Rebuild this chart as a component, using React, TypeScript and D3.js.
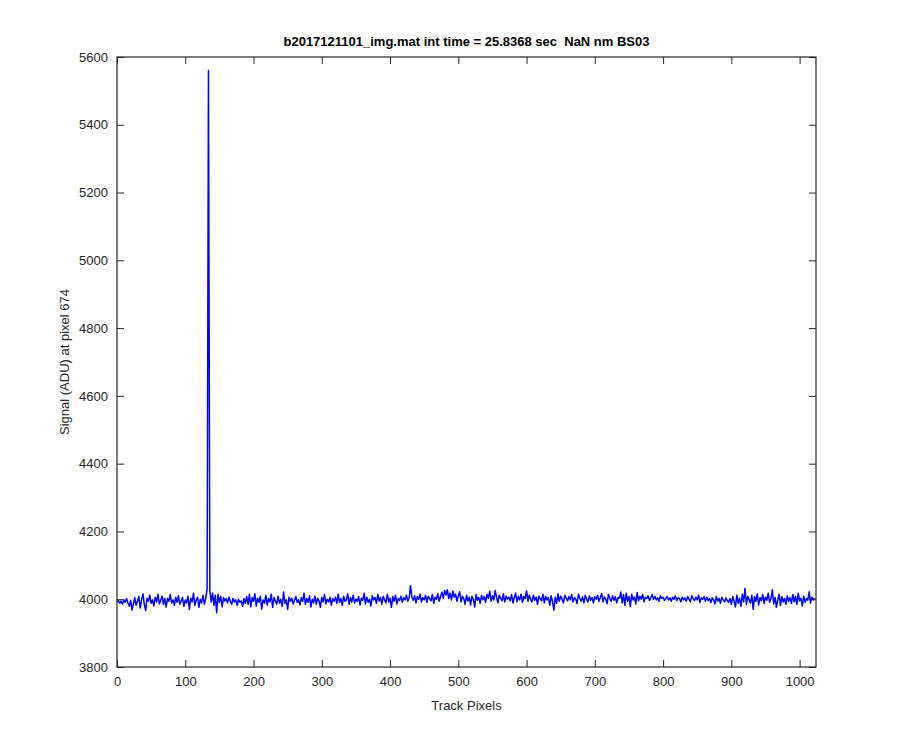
import React, { useRef, useEffect } from 'react';
import * as d3 from 'd3';

// signal sampled every 2 track pixels (index = 2 * i)
const sampleStep = 2;
const signal = [
  3992, 3997, 3988, 3995, 3985, 3998, 3991, 4002, 3989, 3979, 3997, 3968, 3986, 4005, 3982, 3994,
  4008, 3974, 3998, 4016, 3985, 3967, 4003, 3994, 4012, 3988, 3998, 3980, 4006, 3992, 4015, 3986,
  3997, 4009, 3985, 4003, 3977, 4002, 3994, 4014, 3989, 3998, 3982, 4006, 3991, 4010, 3985, 3995,
  4005, 3979, 3998, 3989, 4009, 3970, 4003, 3992, 4018, 3982, 3997, 4006, 3976, 4000, 3989, 4012,
  3985, 4002, 4030, 5560, 4025, 3992, 4018, 3982, 4012, 3960, 4015, 3991, 4009, 3977, 4005, 3995,
  4002, 3989, 4006, 3994, 3985, 4003, 3992, 3998, 3982, 4000, 3991, 3995, 3979, 4002, 3988, 4008,
  3985, 4014, 3977, 4005, 3994, 4016, 3980, 4003, 3991, 4009, 3971, 3998, 3988, 4012, 3983, 4002,
  3992, 4015, 3976, 4005, 3995, 3985, 4009, 3989, 4000, 3979, 4021, 3988, 3998, 3970, 4006, 3994,
  4003, 3986, 3997, 4008, 3991, 3998, 3983, 4005, 3994, 4018, 3985, 4002, 3991, 4010, 3977, 4000,
  3989, 4009, 3985, 4003, 3995, 3976, 4006, 3992, 4014, 3986, 4000, 3992, 4005, 3982, 4002, 3994,
  4006, 3988, 4015, 3991, 4002, 3982, 4009, 3994, 3998, 4016, 3985, 4005, 3992, 4012, 3989, 4000,
  3994, 4008, 3983, 4003, 3997, 4018, 3986, 4006, 3991, 4000, 3980, 4010, 3998, 4005, 3988, 4014,
  3995, 4006, 3985, 4009, 3998, 3989, 4015, 3992, 4003, 3976, 4008, 3994, 4012, 3986, 4002, 3997,
  4009, 3991, 4005, 3998, 4012, 3994, 4003, 4040, 4006, 3997, 4010, 3989, 4008, 4000, 4015, 3992,
  4005, 3998, 4012, 3991, 4009, 4002, 3995, 4014, 3988, 4006, 4000, 4016, 3994, 4008, 4021, 4003,
  4026, 4012, 4028, 4002, 4018, 3998, 4024, 4006, 4015, 3994, 4010, 4022, 3992, 4009, 4002, 3985,
  4012, 3995, 4006, 3983, 4009, 4000, 3977, 4014, 3997, 4005, 3988, 4012, 3998, 4008, 3991, 4015,
  4002, 4024, 3994, 4010, 3998, 4026, 4006, 3989, 4012, 4003, 3995, 4016, 3992, 4009, 4000, 4006,
  3995, 4014, 3989, 4005, 4018, 3992, 4009, 3998, 4015, 3991, 4008, 4002, 4025, 3994, 4012, 4000,
  3992, 4012, 3997, 4006, 3985, 4009, 4002, 3995, 4015, 3989, 4008, 3998, 4005, 3982, 4010, 3994,
  3968, 4006, 3988, 4016, 3994, 4009, 4000, 3989, 4012, 4003, 3995, 4008, 3998, 4014, 3992, 4005,
  4000, 3987, 4015, 4002, 3994, 4007, 3989, 4012, 4000, 3992, 4010, 3997, 4005, 3989, 4007, 4000,
  4012, 3994, 4005, 4017, 3992, 4007, 4000, 3987, 4015, 4002, 3994, 4010, 3997, 4007, 3989, 4005,
  4003, 4021, 3989, 4014, 3982, 4018, 3994, 4008, 3979, 4015, 3998, 4006, 3986, 4020, 3995, 4009,
  4000, 4014, 3992, 4006, 4002, 4010, 3996, 4004, 4014, 4000, 4008, 3998, 4004, 3994, 4010, 4002,
  4006, 3996, 4002, 4008, 3998, 4004, 3994, 4006, 4000, 4010, 3996, 4004, 4002, 3992, 4006, 3998,
  4004, 3994, 4008, 4000, 3992, 4010, 4002, 3996, 4006, 3998, 4012, 3990, 4004, 4000, 4008, 3994,
  4006, 3996, 4002, 3990, 4004, 3998, 3986, 4008, 3994, 4002, 3988, 4006, 3998, 3992, 4004, 3996,
  3991, 4002, 3985, 4008, 3994, 3977, 4012, 3988, 4003, 3979, 4015, 3992, 4032, 3985, 4009, 3998,
  3989, 4012, 3970, 4008, 3994, 4016, 3983, 4005, 3995, 4014, 3988, 4006, 3997, 4018, 3991, 4002,
  4028, 3986, 4006, 3976, 3997, 4015, 3982, 4008, 3992, 4002, 3985, 4010, 3994, 4005, 3988, 4014,
  3992, 4008, 3985, 4018, 3995, 4003, 3980, 4009, 3991, 4002, 3997, 4022, 3989, 4006, 3998, 4003,
];

const xTicks = [0, 100, 200, 300, 400, 500, 600, 700, 800, 900, 1000];
const yTicks = [3800, 4000, 4200, 4400, 4600, 4800, 5000, 5200, 5400, 5600];
const titleText = 'b2017121101_img.mat int time = 25.8368 sec\u00a0\u00a0NaN nm BS03';
const xLabel = 'Track Pixels';
const yLabel = 'Signal (ADU) at pixel 674';

const App = () => {
  const svgRef = useRef(null);

  useEffect(() => {
    const width = 900;
    const height = 750;
    const margin = { top: 57, right: 84, bottom: 83, left: 117 };
    const innerW = width - margin.left - margin.right;
    const innerH = height - margin.top - margin.bottom;
    const axisColor = '#262626';
    const font = '"Liberation Sans", Arial, Helvetica, sans-serif';
    const fmt = d3.format('d');

    const svg = d3.select(svgRef.current);
    svg.selectAll('*').remove();
    svg.attr('width', width).attr('height', height);

    svg.append('rect').attr('width', width).attr('height', height).attr('fill', '#ffffff');

    const g = svg.append('g').attr('transform', `translate(${margin.left},${margin.top})`);

    const x = d3.scaleLinear().domain([0, 1024]).range([0, innerW]);
    const y = d3.scaleLinear().domain([3800, 5600]).range([innerH, 0]);

    // data line
    const line = d3.line()
      .x((d, i) => x(i * sampleStep))
      .y(d => y(d));

    g.append('path')
      .datum(signal)
      .attr('fill', 'none')
      .attr('stroke', '#0000ff')
      .attr('stroke-width', 1.5)
      .attr('stroke-linejoin', 'round')
      .attr('d', line);

    const tickLen = 7;

    // bottom axis (ticks inward)
    const xAxis = d3.axisBottom(x).tickValues(xTicks).tickFormat(fmt).tickSizeInner(-tickLen).tickSizeOuter(0).tickPadding(10);
    const gx = g.append('g').attr('transform', `translate(0,${innerH})`).call(xAxis);
    // top ticks
    const gxt = g.append('g').call(d3.axisTop(x).tickValues(xTicks).tickSizeInner(-tickLen).tickSizeOuter(0).tickFormat(() => ''));
    // left axis
    const yAxis = d3.axisLeft(y).tickValues(yTicks).tickFormat(fmt).tickSizeInner(-tickLen).tickSizeOuter(0).tickPadding(9);
    const gy = g.append('g').call(yAxis);
    // right ticks
    const gyr = g.append('g').attr('transform', `translate(${innerW},0)`)
      .call(d3.axisRight(y).tickValues(yTicks).tickSizeInner(-tickLen).tickSizeOuter(0).tickFormat(() => ''));

    [gx, gxt, gy, gyr].forEach(a => {
      a.select('.domain').remove();
      a.selectAll('line').attr('stroke', axisColor).attr('stroke-width', 1);
      a.selectAll('text').attr('fill', axisColor).style('font-family', font).style('font-size', '13px');
    });

    // box
    g.append('rect')
      .attr('x', 0)
      .attr('y', 0)
      .attr('width', innerW)
      .attr('height', innerH)
      .attr('fill', 'none')
      .attr('stroke', axisColor)
      .attr('stroke-width', 1.2);

    // title
    svg.append('text')
      .attr('x', margin.left + innerW / 2)
      .attr('y', 46)
      .attr('text-anchor', 'middle')
      .style('font-family', font)
      .style('font-size', '13px')
      .style('font-weight', 'bold')
      .attr('fill', '#000000')
      .text(titleText);

    // x label
    svg.append('text')
      .attr('x', margin.left + innerW / 2)
      .attr('y', 710)
      .attr('text-anchor', 'middle')
      .style('font-family', font)
      .style('font-size', '13px')
      .attr('fill', axisColor)
      .text(xLabel);

    // y label
    svg.append('text')
      .attr('transform', `translate(69,${margin.top + innerH / 2}) rotate(-90)`)
      .attr('text-anchor', 'middle')
      .style('font-family', font)
      .style('font-size', '13px')
      .attr('fill', axisColor)
      .text(yLabel);
  }, []);

  return (
    <div style={{ position: 'absolute', left: 0, top: 0 }}>
      <svg ref={svgRef} />
    </div>
  );
};

export default App;
